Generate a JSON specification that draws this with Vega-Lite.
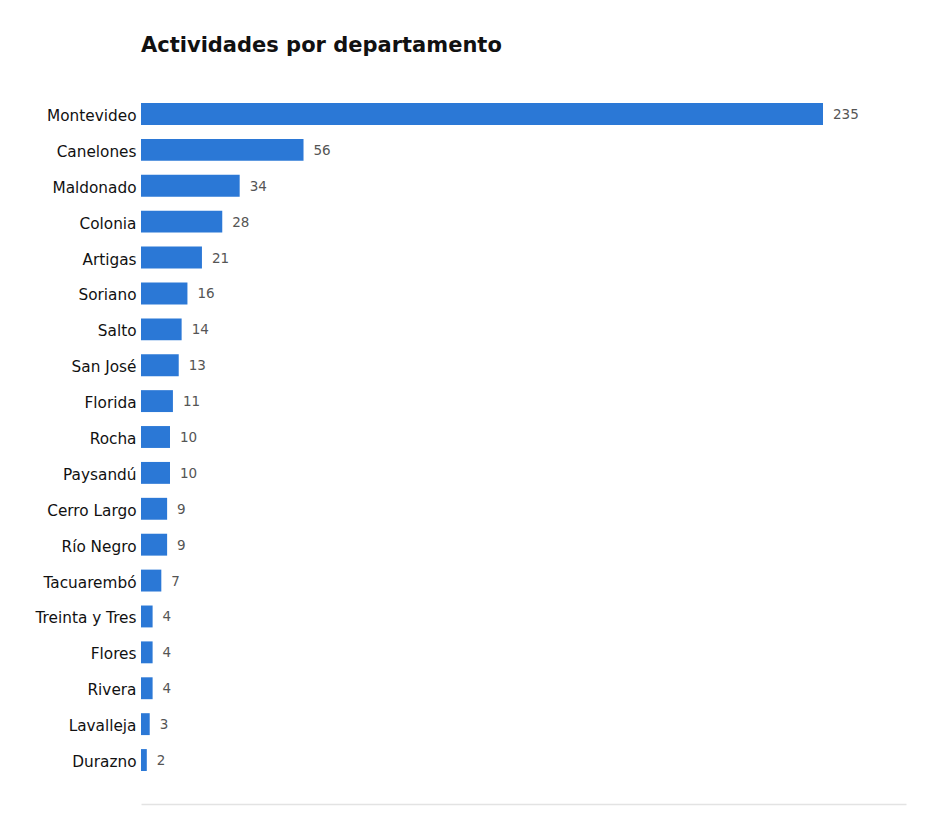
{
  "$schema": "https://vega.github.io/schema/vega-lite/v6.json",
  "width": 765,
  "height": 734,
  "autosize": {"type": "none"},
  "padding": {"left": 141, "top": 70, "right": 33, "bottom": 35},
  "background": "white",
  "title": {
    "text": "Actividades por departamento",
    "anchor": "start",
    "frame": "group",
    "font": "DejaVu Sans",
    "fontSize": 21,
    "fontWeight": "bold",
    "color": "#111111",
    "offset": 14
  },
  "data": {
    "values": [
      {"departamento": "Montevideo", "actividades": 235},
      {"departamento": "Canelones", "actividades": 56},
      {"departamento": "Maldonado", "actividades": 34},
      {"departamento": "Colonia", "actividades": 28},
      {"departamento": "Artigas", "actividades": 21},
      {"departamento": "Soriano", "actividades": 16},
      {"departamento": "Salto", "actividades": 14},
      {"departamento": "San José", "actividades": 13},
      {"departamento": "Florida", "actividades": 11},
      {"departamento": "Rocha", "actividades": 10},
      {"departamento": "Paysandú", "actividades": 10},
      {"departamento": "Cerro Largo", "actividades": 9},
      {"departamento": "Río Negro", "actividades": 9},
      {"departamento": "Tacuarembó", "actividades": 7},
      {"departamento": "Treinta y Tres", "actividades": 4},
      {"departamento": "Flores", "actividades": 4},
      {"departamento": "Rivera", "actividades": 4},
      {"departamento": "Lavalleja", "actividades": 3},
      {"departamento": "Durazno", "actividades": 2}
    ]
  },
  "encoding": {
    "y": {
      "field": "departamento",
      "type": "nominal",
      "sort": null,
      "title": null,
      "scale": {"paddingInner": 0.39, "paddingOuter": 0.92},
      "axis": {
        "domain": false,
        "ticks": false,
        "labelPadding": 5,
        "labelOffset": 2,
        "labelFont": "DejaVu Sans",
        "labelFontSize": 15.3,
        "labelColor": "#111111"
      }
    },
    "x": {
      "field": "actividades",
      "type": "quantitative",
      "title": null,
      "scale": {"domain": [0, 263.6], "nice": false},
      "axis": {
        "labels": false,
        "ticks": false,
        "grid": false,
        "domain": true,
        "domainColor": "#e3e3e3",
        "domainWidth": 1.5
      }
    }
  },
  "layer": [
    {"mark": {"type": "bar", "color": "#2b78d6"}},
    {
      "mark": {
        "type": "text",
        "align": "left",
        "baseline": "middle",
        "dx": 10,
        "dy": 1,
        "font": "DejaVu Sans",
        "fontSize": 13.5,
        "color": "#555555"
      },
      "encoding": {"text": {"field": "actividades", "type": "quantitative"}}
    }
  ],
  "config": {"view": {"stroke": null}}
}
